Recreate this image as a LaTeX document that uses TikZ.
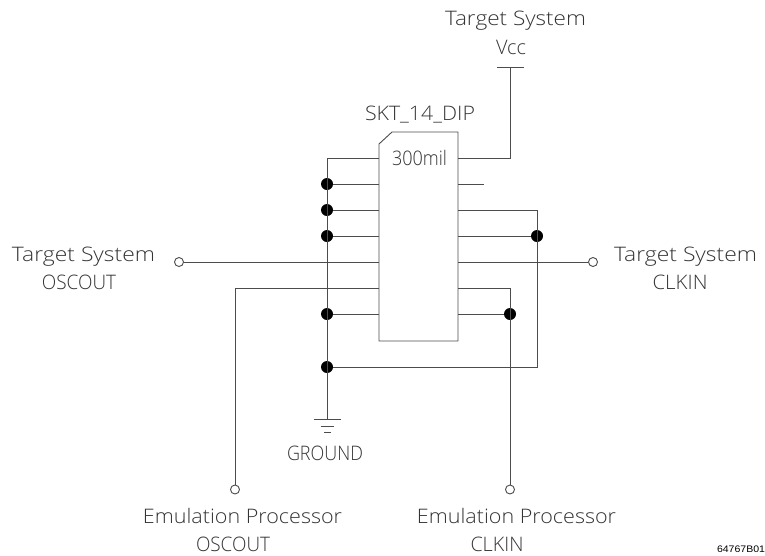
\documentclass[tikz,border=0pt]{standalone}
\usepackage{graphicx}
\usepackage{fontspec}
\setmainfont{Open Sans Light}
\newcommand\lab[2]{\resizebox{#1pt}{\height}{#2}}
\tikzset{
  wire/.style={draw=black!70,line width=0.9pt},
  lbl/.style={anchor=base,inner sep=0pt,outer sep=0pt,text=black!80,font=\fontsize{20}{22}\selectfont},
  joint/.style={circle,fill=black,draw=none,minimum size=12pt,inner sep=0pt},
  term/.style={circle,fill=white,draw=black!70,line width=0.9pt,minimum size=9pt,inner sep=0pt}
}
\begin{document}
\begin{tikzpicture}[x=1pt,y=-1pt]
\useasboundingbox (0,0) rectangle (765,555);
% chip outline
\coordinate (c1) at (379,144);
\coordinate (c2) at (392,132);
\coordinate (c3) at (458,132);
\coordinate (c4) at (458,341);
\coordinate (c5) at (379,341);
\draw[wire] (c1) -- (c2) -- (c3) -- (c4) -- (c5) -- cycle;
% left pins
\coordinate (L1) at (379,158);
\coordinate (L2) at (379,184);
\coordinate (L3) at (379,210);
\coordinate (L4) at (379,236);
\coordinate (L5) at (379,262);
\coordinate (L6) at (379,288);
\coordinate (L7) at (379,314);
% right pins
\coordinate (R1) at (458,158);
\coordinate (R2) at (458,184);
\coordinate (R3) at (458,210);
\coordinate (R4) at (458,236);
\coordinate (R5) at (458,262);
\coordinate (R6) at (458,288);
\coordinate (R7) at (458,314);
\coordinate (R2e) at (484,184);
% bus joints
\coordinate (b1) at (327,158);
\node[joint] (j2) at (327,184) {};
\node[joint] (j3) at (327,210) {};
\node[joint] (j4) at (327,236) {};
\node[joint] (j7) at (327,314) {};
\node[joint] (j8) at (327,367) {};
\node[joint] (k4) at (537,236) {};
\node[joint] (k7) at (510,314) {};
\coordinate (g) at (327,419);
\coordinate (k3) at (537,210);
\coordinate (k8) at (537,367);
\coordinate (k6) at (510,288);
\coordinate (o6) at (235,288);
\coordinate (v1) at (510,158);
\coordinate (v2) at (510,67);
% terminals
\node[term] (tl) at (179,262) {};
\node[term] (tr) at (593,262) {};
\node[term] (te1) at (235,489.5) {};
\node[term] (te2) at (510,489.5) {};
% wires
\draw[wire] (L1) -- (b1) -- (g);
\draw[wire] (L2) -- (j2);
\draw[wire] (L3) -- (j3);
\draw[wire] (L4) -- (j4);
\draw[wire] (L7) -- (j7);
\draw[wire] (tl) -- (L5);
\draw[wire] (L6) -- (o6) -- (te1);
\draw[wire] (R1) -- (v1) -- (v2);
\draw[wire] (R2) -- (R2e);
\draw[wire] (R3) -- (k3) -- (k8) -- (j8);
\draw[wire] (R4) -- (k4);
\draw[wire] (R5) -- (tr);
\draw[wire] (R6) -- (k6) -- (te2);
\draw[wire] (R7) -- (k7);
% Vcc bar
\coordinate (va) at (497,67);
\coordinate (vb) at (524,67);
\draw[wire] (va) -- (vb);
% ground bars
\coordinate (g1a) at (314,419.5);
\coordinate (g1b) at (341,419.5);
\coordinate (g2a) at (320.5,426);
\coordinate (g2b) at (334,426);
\coordinate (g3a) at (324,432.5);
\coordinate (g3b) at (331,432.5);
\draw[wire] (g1a) -- (g1b);
\draw[wire] (g2a) -- (g2b);
\draw[wire] (g3a) -- (g3b);
% labels
\node[lbl] (t1) at (515.5,25) {\lab{141}{Target System}};
\node[lbl] (t2) at (511,54) {\lab{30}{Vcc}};
\node[lbl] (t3) at (420,120) {\lab{110}{SKT\_14\_DIP}};
\node[lbl] (t4) at (419.5,165) {\lab{55}{300mil}};
\node[lbl] (t5) at (83.5,261) {\lab{143}{Target System}};
\node[lbl] (t6) at (79,289) {\lab{74}{OSCOUT}};
\node[lbl] (t7) at (685.5,261) {\lab{143}{Target System}};
\node[lbl] (t8) at (680,289) {\lab{55}{CLKIN}};
\node[lbl] (t9) at (325,460) {\lab{76}{GROUND}};
\node[lbl] (t10) at (242.5,523) {\lab{199}{Emulation Processor}};
\node[lbl] (t11) at (233,551) {\lab{74}{OSCOUT}};
\node[lbl] (t12) at (516.5,523) {\lab{199}{Emulation Processor}};
\node[lbl] (t13) at (497,551) {\lab{53}{CLKIN}};
\node[anchor=base,inner sep=0pt,text=black,font=\fontsize{9.5}{11}\selectfont\fontspec{Liberation Sans}] (t14) at (741,552) {\lab{48}{64767B01}};
\end{tikzpicture}
\end{document}
